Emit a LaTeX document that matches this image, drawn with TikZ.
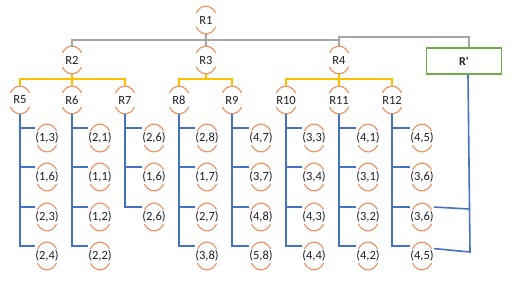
\documentclass[tikz,border=0pt]{standalone}
\usepackage{fontspec}
\setmainfont{Carlito}
\usepackage{xcolor}
\usetikzlibrary{calc}
\definecolor{ringOrange}{RGB}{240,140,90}
\definecolor{treeBlue}{RGB}{68,114,196}
\definecolor{treeGray}{RGB}{165,165,165}
\definecolor{treeYellow}{RGB}{255,192,0}
\definecolor{boxGreen}{RGB}{112,173,71}
\definecolor{labelInk}{RGB}{30,30,40}
\tikzset{
  ring/.style={inner sep=0pt,minimum width=22pt,minimum height=28pt,text=labelInk,font=\fontsize{12.5}{14}\selectfont},
  ringline/.style={draw=ringOrange,line width=1.1pt},
  grayline/.style={draw=treeGray,line width=1.8pt},
  yellowline/.style={draw=treeYellow,line width=1.6pt},
  blueline/.style={draw=treeBlue,line width=1.6pt},
}
\newcommand{\RingArcs}[1]{%
  \draw[ringline] (#1.center) ++(30:11pt and 14pt) arc[start angle=30,end angle=150,x radius=11pt,y radius=14pt];
  \draw[ringline] (#1.center) ++(210:11pt and 14pt) arc[start angle=210,end angle=330,x radius=11pt,y radius=14pt];}

\begin{document}
\begin{tikzpicture}[x=1pt,y=-1pt]
\useasboundingbox (0,0) rectangle (518,288);
% routers
\node[ring] (r1) at (206,20) {R1};
\node[ring] (r2) at (72,60) {R2};
\node[ring] (r3) at (206,60) {R3};
\node[ring] (r4) at (339,60) {R4};
\node[ring] (r5) at (20,100) {R5};
\node[ring] (r6) at (72,100) {R6};
\node[ring] (r7) at (125,100) {R7};
\node[ring] (r8) at (179,100) {R8};
\node[ring] (r9) at (232,100) {R9};
\node[ring] (r10) at (286,100) {R10};
\node[ring] (r11) at (339,100) {R11};
\node[ring] (r12) at (392,100) {R12};
\node[draw=boxGreen,line width=1.6pt,minimum width=75pt,minimum height=26pt,inner sep=0pt,text=labelInk,font=\fontsize{12}{14}\selectfont\bfseries] (rp) at (464,61) {R\textquotesingle};
% leaves
\node[ring] (c5-1) at (47,138) {(1,3)};
\node[ring] (c5-2) at (47,177) {(1,6)};
\node[ring] (c5-3) at (47,217) {(2,3)};
\node[ring] (c5-4) at (47,256) {(2,4)};
\node[ring] (c6-1) at (100,138) {(2,1)};
\node[ring] (c6-2) at (100,177) {(1,1)};
\node[ring] (c6-3) at (100,217) {(1,2)};
\node[ring] (c6-4) at (100,256) {(2,2)};
\node[ring] (c7-1) at (154,138) {(2,6)};
\node[ring] (c7-2) at (154,177) {(1,6)};
\node[ring] (c7-3) at (154,217) {(2,6)};
\node[ring] (c8-1) at (207,138) {(2,8)};
\node[ring] (c8-2) at (207,177) {(1,7)};
\node[ring] (c8-3) at (207,217) {(2,7)};
\node[ring] (c8-4) at (207,256) {(3,8)};
\node[ring] (c9-1) at (261,138) {(4,7)};
\node[ring] (c9-2) at (261,177) {(3,7)};
\node[ring] (c9-3) at (261,217) {(4,8)};
\node[ring] (c9-4) at (261,256) {(5,8)};
\node[ring] (c10-1) at (314,138) {(3,3)};
\node[ring] (c10-2) at (314,177) {(3,4)};
\node[ring] (c10-3) at (314,217) {(4,3)};
\node[ring] (c10-4) at (314,256) {(4,4)};
\node[ring] (c11-1) at (368,138) {(4,1)};
\node[ring] (c11-2) at (368,177) {(3,1)};
\node[ring] (c11-3) at (368,217) {(3,2)};
\node[ring] (c11-4) at (368,256) {(4,2)};
\node[ring] (c12-1) at (422,138) {(4,5)};
\node[ring] (c12-2) at (422,177) {(3,6)};
\node[ring] (c12-3) at (422,217) {(3,6)};
\node[ring] (c12-4) at (422,256) {(4,5)};
% orange arcs
\foreach \i in {1,...,12} {\RingArcs{r\i}}
\foreach \p/\m in {5/4,6/4,7/3,8/4,9/4,10/4,11/4,12/4} {
  \foreach \k in {1,...,\m} {\RingArcs{c\p-\k}}
}
% top level
\coordinate (gbar) at (206,40);
\draw[grayline] (r1.south) -- (gbar);
\draw[grayline] (r3.north) -- (gbar);
\draw[grayline] (r2.north) |- (r4.north |- gbar) -- (r4.north);
\draw[grayline] (r4.north |- gbar) -- ++(0,-3) -| ([xshift=5pt]rp.north);
% second level
\draw[yellowline] (r5.north) -- ++(0,-7) -| (r7.north);
\draw[yellowline] (r6.north) -- (r2.south);
\draw[yellowline] (r8.north) -- ++(0,-7) -| (r9.north);
\draw[yellowline] (r3.south) -- ++(0,5);
\draw[yellowline] (r10.north) -- ++(0,-7) -| (r12.north);
\draw[yellowline] (r11.north) -- (r4.south);
% leaf links
\foreach \p/\m in {5/4,6/4,7/3,8/4,9/4,10/4,11/4,12/4} {
  \draw[blueline] (r\p.south) |- (c\p-\m.140);
  \foreach \k in {1,...,\m} {\draw[blueline] (r\p.south |- c\p-\k.140) -- (c\p-\k.140);}
}
\coordinate (rpend) at (470,252);
\coordinate (rpjoin) at (469,209);
\draw[blueline] ([xshift=4pt]rp.south) -- (rpend) -- (c12-4.32);
\draw[blueline] (c12-3.40) -- (rpjoin);
\end{tikzpicture}
\end{document}
